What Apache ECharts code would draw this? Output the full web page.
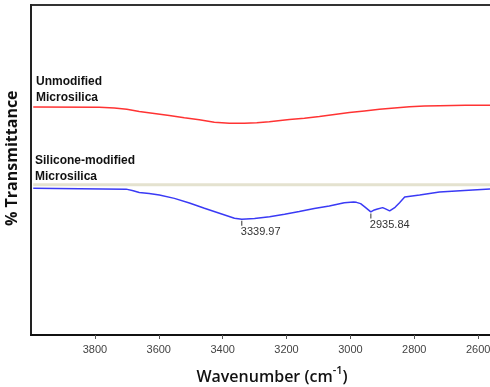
<!DOCTYPE html>
<html>
<head>
<meta charset="utf-8">
<script src="https://cdn.jsdelivr.net/npm/echarts@6/dist/echarts.min.js"></script>
<style>html,body{margin:0;padding:0;background:#fff}#c{width:490px;height:387px}</style>
</head>
<body>
<div id="c"></div>
<script>
// Wavenumber (cm-1) and % transmittance (arbitrary offset scale)
const unmodWn = [3993, 3786, 3739, 3700, 3661, 3614, 3567, 3520, 3473, 3426, 3379, 3332, 3293, 3254, 3191, 3144, 3097, 3050, 3003, 2956, 2909, 2862, 2815, 2768, 2721, 2640, 2545];
const unmodT  = [69.1, 69.0, 68.8, 68.4, 67.7, 67.1, 66.5, 65.8, 65.2, 64.5, 64.2, 64.2, 64.3, 64.6, 65.3, 65.7, 66.2, 66.8, 67.4, 67.9, 68.4, 68.8, 69.2, 69.4, 69.5, 69.6, 69.6];

const siliWn = [3993, 3702, 3680, 3661, 3630, 3598, 3551, 3504, 3457, 3410, 3363, 3340, 3300, 3253, 3206, 3160, 3113, 3066, 3019, 2990, 2981, 2968, 2956, 2936, 2925, 2915, 2899, 2890, 2877, 2860, 2846, 2830, 2783, 2721, 2643, 2545];
const siliT  = [44.5, 44.2, 43.7, 43.2, 42.9, 42.4, 41.4, 40.0, 38.4, 36.9, 35.4, 35.1, 35.3, 35.8, 36.6, 37.4, 38.3, 39.1, 40.1, 40.3, 40.2, 39.8, 38.9, 37.3, 37.9, 38.2, 38.6, 38.2, 37.6, 38.7, 40.1, 41.8, 42.4, 43.3, 43.8, 44.3];

const refWn = [3993, 2540];
const refT  = [45.5, 45.5];

const peaks = [[3339.97, 35.1], [2935.84, 37.3]];

const chart = echarts.init(document.getElementById('c'), null, {renderer: 'canvas'});
const zip = (a, b) => a.map((v, i) => [v, b[i]]);

chart.setOption({
  animation: false,
  grid: {left: 31, top: 5, width: 511, height: 330, outerBoundsMode: 'none', containLabel: false, show: true, borderColor: '#333', borderWidth: 2, backgroundColor: 'transparent'},
  xAxis: {
    type: 'value', inverse: true, min: 2400, max: 4000, interval: 200,
    axisLine: {show: true, onZero: false, lineStyle: {color: '#111', width: 2}},
    axisTick: {show: true, length: 4, inside: false, lineStyle: {color: '#555'}},
    axisLabel: {
      color: '#444', fontSize: 11, fontFamily: 'Liberation Sans Narrow, Liberation Sans, sans-serif', margin: 9,
      showMinLabel: false, showMaxLabel: false,
      formatter: v => String(v)
    },
    splitLine: {show: false}
  },
  yAxis: {
    type: 'value', min: 0, max: 100,
    axisLine: {show: true, lineStyle: {color: '#222', width: 2}},
    axisTick: {show: false}, axisLabel: {show: false}, splitLine: {show: false}
  },
  graphic: [
    {type: 'text', x: 4, y: 226, rotation: Math.PI / 2, style: {text: '% Transmittance', fontSize: 16, fontWeight: 'bold', fontFamily: 'Open Sans, Liberation Sans, sans-serif', fill: '#111'}},
    {type: 'text', x: 272, y: 375, style: {text: '{a|Wavenumber (cm}{s|-1}{a|)}', align: 'center', verticalAlign: 'middle',
      rich: {
        a: {fontSize: 16, fontFamily: 'Open Sans, Liberation Sans, sans-serif', fontWeight: 600, fill: '#111', verticalAlign: 'bottom', lineHeight: 20},
        s: {fontSize: 11, fontFamily: 'Open Sans, Liberation Sans, sans-serif', fontWeight: 600, fill: '#111', verticalAlign: 'top', padding: [0, 0, 9, 0], lineHeight: 20}
      }}},
    {type: 'text', left: 36, top: 74, style: {text: 'Unmodified\nMicrosilica', fontSize: 12, lineHeight: 16, fontWeight: 'bold', fontFamily: 'Liberation Sans, sans-serif', fill: '#111'}},
    {type: 'text', left: 35, top: 153, style: {text: 'Silicone-modified\nMicrosilica', fontSize: 12, lineHeight: 16, fontWeight: 'bold', fontFamily: 'Liberation Sans, sans-serif', fill: '#111'}}
  ],
  series: [
    {type: 'line', data: zip(refWn, refT), symbol: 'none', lineStyle: {color: '#e4e2cf', width: 3}, silent: true},
    {type: 'line', data: zip(unmodWn, unmodT), symbol: 'none', lineStyle: {color: '#ff3333', width: 1.5}},
    {type: 'line', data: zip(siliWn, siliT), symbol: 'none', lineStyle: {color: '#3a3af5', width: 1.5},
      markPoint: {
        symbol: 'rect', symbolSize: [1, 5], symbolOffset: [0, 4], silent: true,
        itemStyle: {color: '#333'},
        label: {show: true, position: 'bottom', align: 'left', offset: [-1, 0], distance: 1, color: '#333', fontSize: 11, fontFamily: 'Liberation Sans Narrow, Liberation Sans, sans-serif',
          formatter: p => p.value.toFixed(2)},
        data: peaks.map(p => ({coord: p, value: p[0]}))
      }
    }
  ]
});
</script>
</body>
</html>
